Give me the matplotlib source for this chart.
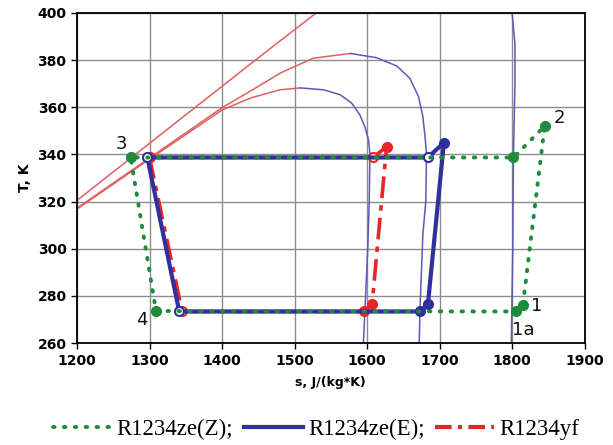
import matplotlib
matplotlib.use("Agg")
import matplotlib.pyplot as plt
from matplotlib.lines import Line2D

# saturation curves (liquid side red, vapour side blue)
yf_liq_s = [1200, 1300, 1400, 1440, 1480, 1508]
yf_liq_T = [316.8, 338.0, 358.8, 364.0, 367.4, 368.2]
yf_vap_s = [1508, 1540, 1563, 1579, 1590, 1597, 1602, 1604, 1603, 1601, 1598, 1595]
yf_vap_T = [368.2, 367.4, 365.3, 361.7, 356.8, 351.8, 346.2, 340.6, 320.0, 300.0, 280.0, 260.0]

zee_liq_s = [1200, 1300, 1400, 1440, 1481, 1526, 1577]
zee_liq_T = [317.2, 338.5, 359.8, 367.0, 374.6, 380.8, 382.8]
zee_vap_s = [1577, 1613, 1641, 1659, 1671, 1677, 1680, 1682, 1681, 1677, 1675, 1673, 1672]
zee_vap_T = [382.8, 381.0, 377.5, 372.3, 364.5, 356.0, 347.6, 340.0, 320.0, 306.0, 290.0, 274.0, 260.0]

zez_liq_s = [1200, 1446, 1530]
zez_liq_T = [320.5, 380.0, 400.0]
zez_vap_s = [1800, 1804, 1804, 1802, 1801, 1799]
zez_vap_T = [400.0, 387.0, 370.0, 340.0, 300.0, 260.0]

# cycles
cyc_z_s = [1805, 1815, 1845, 1802, 1274, 1309, 1805]
cyc_z_T = [273.4, 276.3, 352.0, 338.7, 338.7, 273.6, 273.4]
cyc_e_s = [1297, 1341, 1673, 1684, 1706, 1684, 1297]
cyc_e_T = [338.7, 273.4, 273.4, 276.6, 345.0, 338.7, 338.7]
cyc_yf_s = [1300, 1345, 1596, 1607, 1627, 1608, 1300]
cyc_yf_T = [338.7, 273.4, 273.4, 276.6, 343.2, 338.7, 338.7]

point_labels = ["3", "4", "1", "1a", "2"]
label_s = [1261, 1289, 1834, 1815, 1865]
label_T = [344.5, 270.0, 275.6, 265.7, 355.6]

legend_labels = ["R1234ze(Z);", "R1234ze(E);", "R1234yf"]

GREEN = "#1e8c3a"
BLUE = "#2f2f9e"
RED = "#e8262a"
DOME_RED = "#e06060"
DOME_BLUE = "#5a5ab4"
DOTS = (0, (0.4, 2.4))

fig = plt.figure(figsize=(6.13, 4.45), dpi=100)
ax = fig.add_axes([0.1256, 0.229, 0.828, 0.742])

# domes
for s, T in [(yf_liq_s, yf_liq_T), (zee_liq_s, zee_liq_T), (zez_liq_s, zez_liq_T)]:
    ax.plot(s, T, color=DOME_RED, lw=1.1, zorder=2)
for s, T in [(yf_vap_s, yf_vap_T), (zee_vap_s, zee_vap_T), (zez_vap_s, zez_vap_T)]:
    ax.plot(s, T, color=DOME_BLUE, lw=1.1, zorder=2)

# R1234yf cycle
ax.plot(cyc_yf_s, cyc_yf_T, color=RED, lw=2.6, linestyle=(0, (6, 2, 1.5, 2)), zorder=3)
for i, (s, T) in enumerate(zip(cyc_yf_s[:-1], cyc_yf_T[:-1])):
    fc = "white" if i in (1, 5) else RED
    ax.plot(s, T, "o", ms=6.5, mfc=fc, mec=RED, mew=1.5, zorder=3)

# R1234ze(E) cycle
ax.plot(cyc_e_s, cyc_e_T, color=BLUE, lw=3, zorder=4)
for i, (s, T) in enumerate(zip(cyc_e_s[:-1], cyc_e_T[:-1])):
    fc = "white" if i in (0, 1, 5) else BLUE
    ax.plot(s, T, "o", ms=6.5, mfc=fc, mec=BLUE, mew=1.5, zorder=4)

# R1234ze(Z) cycle
ax.plot(cyc_z_s, cyc_z_T, color=GREEN, lw=2.8, linestyle=DOTS,
        dash_capstyle="round", zorder=5)
ax.plot(cyc_z_s[:-1], cyc_z_T[:-1], "o", ms=7, color=GREEN, zorder=5, lw=0)

for txt, s, T in zip(point_labels, label_s, label_T):
    ax.text(s, T, txt, fontsize=13, ha="center", va="center", color="#111111")

ax.set_xlim(1200, 1900)
ax.set_ylim(260, 400)
ax.set_xticks(range(1200, 1901, 100))
ax.set_yticks(range(260, 401, 20))
ax.grid(True, color="#8c8c8c", lw=1)
ax.set_axisbelow(True)
for sp in ax.spines.values():
    sp.set_linewidth(1.3)
ax.tick_params(labelsize=10, length=4, width=1)
for lab in ax.get_xticklabels() + ax.get_yticklabels():
    lab.set_fontweight("bold")
ax.set_xlabel("s, J/(kg*K)", fontsize=9, fontweight="bold", labelpad=6)
ax.set_ylabel("T, K", fontsize=10, fontweight="bold", labelpad=4)

handles = [
    Line2D([], [], color=GREEN, lw=2.8, linestyle=DOTS, dash_capstyle="round"),
    Line2D([], [], color=BLUE, lw=3),
    Line2D([], [], color=RED, lw=3, linestyle=(0, (4, 1.5, 1, 1.5))),
]
fig.legend(handles, legend_labels, loc="center", bbox_to_anchor=(0.515, 0.036), ncol=3,
           frameon=False, handlelength=2.6, handletextpad=0.2, columnspacing=0.45,
           prop={"family": "Liberation Serif", "size": 16.5})

fig.savefig("out.png", dpi=100)
